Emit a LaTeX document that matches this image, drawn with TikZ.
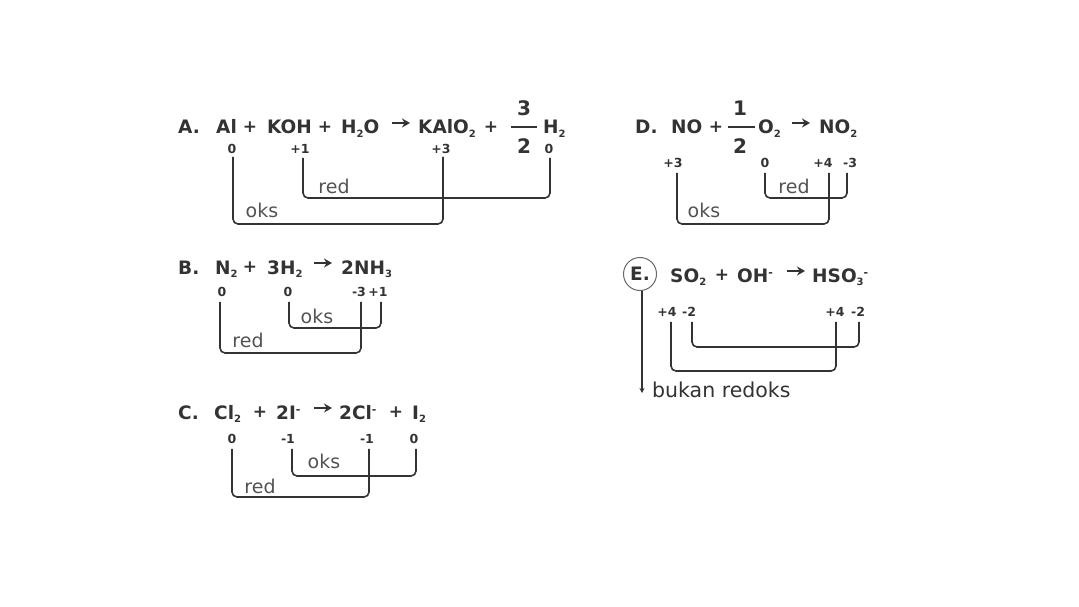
\documentclass[tikz,border=0pt]{standalone}
\usepackage{fontspec}
\setmainfont{DejaVu Sans}
\usetikzlibrary{arrows.meta}
\definecolor{ink}{HTML}{333333}
\newcommand{\dn}[1]{\raisebox{-3.5pt}{\fontsize{10}{10}\selectfont #1}}
\newcommand{\up}[1]{\raisebox{6pt}{\fontsize{11}{11}\selectfont #1}}
\tikzset{
  x=1pt,y=-1pt,
  term/.style={anchor=base west,inner sep=0pt,text=ink,font=\fontsize{18.5}{22}\selectfont\bfseries},
  bigd/.style={anchor=center,inner sep=0pt,text=ink,font=\fontsize{20}{24}\selectfont\bfseries},
  plusn/.style={anchor=center,inner sep=0pt,text=ink,font=\fontsize{17}{20}\selectfont\bfseries},
  ox/.style={anchor=center,inner sep=0pt,text=ink,font=\fontsize{12.5}{14}\selectfont\bfseries},
  tag/.style={anchor=center,inner sep=0pt,text=ink!85,font=\fontsize{19}{22}\selectfont},
  link/.style={draw=ink,line width=1.6pt,rounded corners=5pt},
  rule/.style={draw=ink,line width=1.6pt},
  yield/.style={draw=ink,line width=1.8pt,-{Stealth[length=8pt,width=9pt]}},
}
\begin{document}
\begin{tikzpicture}
\useasboundingbox (0,0) rectangle (1079,607);
% A
\node[term] (Al) at (178,134) {A.};
\node[term] (Aa) at (216,134) {Al};
\node[plusn] (Ap1) at (250,127) {+};
\node[term] (Ab) at (267,134) {KOH};
\node[plusn] (Ap2) at (325,127) {+};
\node[term] (Ac) at (341,134) {H\dn{2}O};
\coordinate (Ar1) at (392,123); \coordinate (Ar2) at (410,123);
\draw[yield] (Ar1) -- (Ar2);
\node[term] (Ad) at (418,134) {KAlO\dn{2}};
\node[plusn] (Ap3) at (491,127) {+};
\node[bigd] (An) at (524,108) {3};
\node[bigd] (Ak) at (524,146) {2};
\coordinate (Af1) at (511,127); \coordinate (Af2) at (537,127);
\draw[rule] (Af1) -- (Af2);
\node[term] (Ae) at (543,134) {H\dn{2}};
\node[ox] (A0) at (232,149) {0};
\node[ox] (A1) at (300,149) {+1};
\node[ox] (A3) at (441,149) {+3};
\node[ox] (A4) at (549,149) {0};
\coordinate (Ay1) at (400,224); \coordinate (Ay2) at (400,198);
\draw[link] ([xshift=3pt,yshift=-4pt]A1.south) |- (Ay2) -| ([xshift=1pt,yshift=-4pt]A4.south);
\draw[link] ([xshift=1pt,yshift=-3pt]A0.south) |- (Ay1) -| ([xshift=2pt,yshift=-3pt]A3.south);
\node[tag] (Ared) at (334,186) {red};
\node[tag] (Aoks) at (262,210) {oks};
% B
\node[term] (Bl) at (178,274) {B.};
\node[term] (Ba) at (215,274) {N\dn{2}};
\node[plusn] (Bp1) at (250,267) {+};
\node[term] (Bb) at (267,274) {3H\dn{2}};
\coordinate (Br1) at (314,263); \coordinate (Br2) at (332,263);
\draw[yield] (Br1) -- (Br2);
\node[term] (Bc) at (341,274) {2NH\dn{3}};
\node[ox] (B0) at (222,292) {0};
\node[ox] (B1) at (288,292) {0};
\node[ox] (B2) at (359,292) {-3};
\node[ox] (B3) at (378,292) {+1};
\coordinate (By1) at (300,353); \coordinate (By2) at (340,328);
\draw[link] ([xshift=1pt,yshift=-5pt]B1.south) |- (By2) -| ([xshift=3pt,yshift=-5pt]B3.south);
\draw[link] ([xshift=-2pt,yshift=-5pt]B0.south) |- (By1) -| ([xshift=2pt,yshift=-5pt]B2.south);
\node[tag] (Boks) at (317,316) {oks};
\node[tag] (Bred) at (248,340) {red};
% C
\node[term] (Cl) at (178,419) {C.};
\node[term] (Ca) at (214,419) {Cl\dn{2}};
\node[plusn] (Cp1) at (260,412) {+};
\node[term] (Cb) at (276,419) {2I\up{-}};
\coordinate (Cr1) at (314,408); \coordinate (Cr2) at (332,408);
\draw[yield] (Cr1) -- (Cr2);
\node[term] (Cc) at (339,419) {2Cl\up{-}};
\node[plusn] (Cp2) at (396,412) {+};
\node[term] (Cd) at (412,419) {I\dn{2}};
\node[ox] (C0) at (232,439) {0};
\node[ox] (C1) at (288,439) {-1};
\node[ox] (C2) at (367,439) {-1};
\node[ox] (C3) at (414,439) {0};
\coordinate (Cy1) at (300,497); \coordinate (Cy2) at (350,476);
\draw[link] ([xshift=4pt,yshift=-5pt]C1.south) |- (Cy2) -| ([xshift=2pt,yshift=-5pt]C3.south);
\draw[link] ([yshift=-5pt]C0.south) |- (Cy1) -| ([xshift=2pt,yshift=-5pt]C2.south);
\node[tag] (Coks) at (324,461) {oks};
\node[tag] (Cred) at (260,486) {red};
% D
\node[term] (Dl) at (635,134) {D.};
\node[term] (Da) at (671,134) {NO};
\node[plusn] (Dp1) at (716,127) {+};
\node[bigd] (Dn) at (740,108) {1};
\node[bigd] (Dk) at (740,146) {2};
\coordinate (Df1) at (728,127); \coordinate (Df2) at (755,127);
\draw[rule] (Df1) -- (Df2);
\node[term] (Db) at (758,134) {O\dn{2}};
\coordinate (Dr1) at (792,123); \coordinate (Dr2) at (810,123);
\draw[yield] (Dr1) -- (Dr2);
\node[term] (Dc) at (819,134) {NO\dn{2}};
\node[ox] (D0) at (673,163) {+3};
\node[ox] (D1) at (765,163) {0};
\node[ox] (D2) at (823,163) {+4};
\node[ox] (D3) at (850,163) {-3};
\coordinate (Dy1) at (750,224); \coordinate (Dy2) at (800,198);
\draw[link] ([yshift=-5pt]D1.south) |- (Dy2) -| ([xshift=-3pt,yshift=-5pt]D3.south);
\draw[link] ([xshift=4pt,yshift=-5pt]D0.south) |- (Dy1) -| ([xshift=6pt,yshift=-5pt]D2.south);
\node[tag] (Dred) at (794,186) {red};
\node[tag] (Doks) at (704,210) {oks};
% E
\node[circle,draw=ink!75,line width=1pt,minimum size=33pt,inner sep=0pt,text=ink,font=\fontsize{18.5}{22}\selectfont\bfseries] (El) at (640,274) {E.};
\node[term] (Ea) at (670,282) {SO\dn{2}};
\node[plusn] (Ep1) at (722,275) {+};
\node[term] (Eb) at (737,282) {OH\up{-}};
\coordinate (Er1) at (787,271); \coordinate (Er2) at (805,271);
\draw[yield] (Er1) -- (Er2);
\node[term] (Ec) at (812,282) {HSO\dn{3}\up{-}};
\node[ox] (E0) at (667,312) {+4};
\node[ox] (E1) at (689,312) {-2};
\node[ox] (E2) at (835,312) {+4};
\node[ox] (E3) at (858,312) {-2};
\coordinate (Ey1) at (750,371); \coordinate (Ey2) at (780,347);
\draw[link] ([xshift=3pt,yshift=-5pt]E1.south) |- (Ey2) -| ([xshift=1pt,yshift=-5pt]E3.south);
\draw[link] ([xshift=4pt,yshift=-5pt]E0.south) |- (Ey1) -| ([xshift=1pt,yshift=-5pt]E2.south);
\coordinate (Etip) at (642,393);
\draw[draw=ink,line width=1.5pt,-{Stealth[length=5pt,width=5pt]}] ([xshift=2pt]El.south) -- (Etip);
\node[anchor=base west,inner sep=0pt,text=ink,font=\fontsize{20.5}{24}\selectfont] (Ebk) at (652,397) {bukan redoks};
\end{tikzpicture}
\end{document}
